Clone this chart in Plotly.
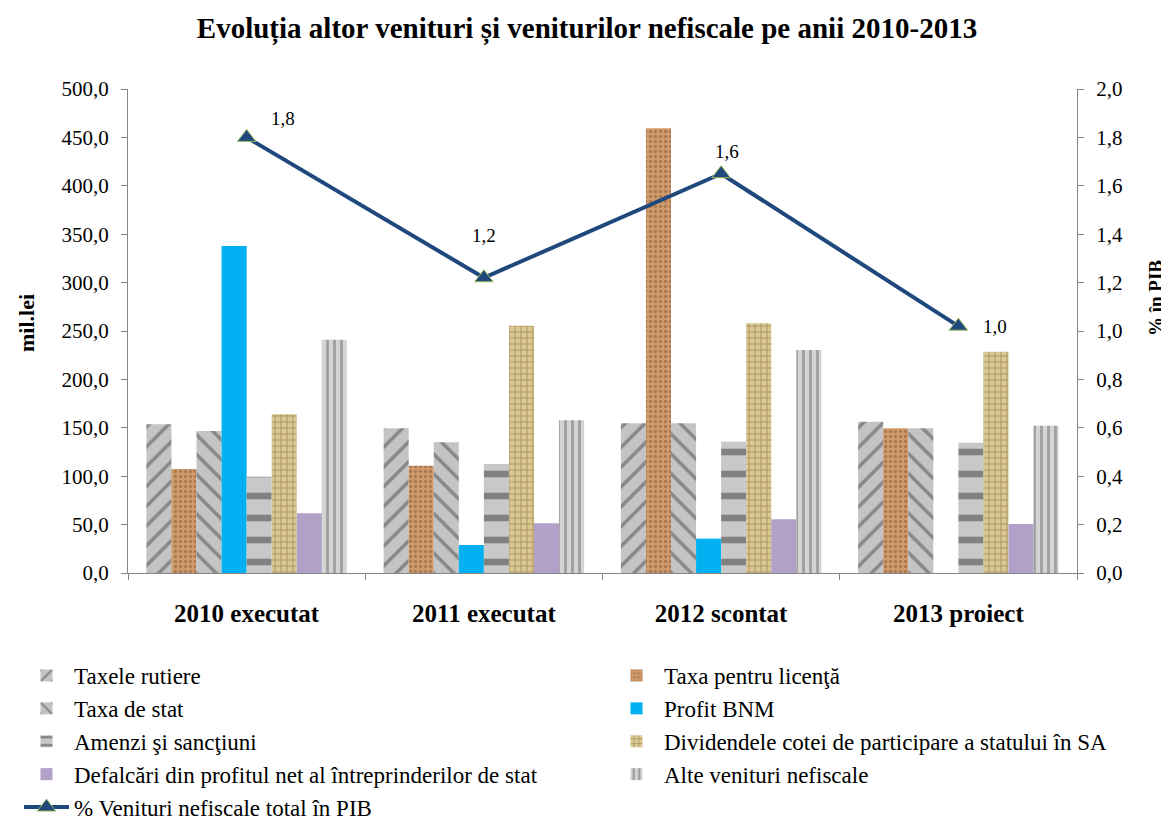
import plotly.graph_objects as go

categories = ["2010 executat", "2011 executat", "2012 scontat", "2013 proiect"]

taxele_rutiere = [153.6, 149.5, 154.6, 156.3]
taxa_licenta = [107.4, 110.9, 459.4, 149.5]
taxa_de_stat = [146.7, 135.0, 154.6, 149.5]
profit_bnm = [337.8, 28.9, 35.5, None]
amenzi = [99.5, 112.6, 135.7, 134.6]
dividende = [163.9, 255.5, 258.0, 228.6]
defalcari = [61.7, 51.3, 55.5, 50.6]
alte_venituri = [241.0, 157.7, 230.4, 152.2]

pib_pct = [1.80, 1.22, 1.65, 1.02]
pib_labels = ["1,8", "1,2", "1,6", "1,0"]

series_names = [
    "Taxele rutiere",
    "Taxa pentru licenţă",
    "Taxa de stat",
    "Profit BNM",
    "Amenzi şi sancţiuni",
    "Dividendele cotei de participare a statului în SA",
    "Defalcări din profitul net al întreprinderilor de stat",
    "Alte venituri nefiscale",
]
line_name = "% Venituri nefiscale total în PIB"

series_values = [taxele_rutiere, taxa_licenta, taxa_de_stat, profit_bnm,
                 amenzi, dividende, defalcari, alte_venituri]

# left legend column gets series 0,2,4,6 (+ line); right column gets 1,3,5,7
legend_of = ["legend", "legend2", "legend", "legend2", "legend", "legend2", "legend", "legend2"]

styles = [
    dict(color="#bdbdbd", pattern=dict(shape="/", fgcolor="#4a4a4a", bgcolor="#c4c4c4", size=14, solidity=0.25)),
    dict(color="#c98f5f", pattern=dict(shape=".", fgcolor="#8a5530", bgcolor="#cf9a6c", size=5, solidity=0.35)),
    dict(color="#bdbdbd", pattern=dict(shape="\\", fgcolor="#4a4a4a", bgcolor="#c4c4c4", size=14, solidity=0.25)),
    dict(color="#00b0f0"),
    dict(color="#c8c8c8", pattern=dict(shape="-", fgcolor="#3a3a3a", bgcolor="#c8c8c8", size=22, solidity=0.3)),
    dict(color="#d9c48e", pattern=dict(shape="+", fgcolor="#7a6535", bgcolor="#dcc892", size=6, solidity=0.3)),
    dict(color="#b1a0c7"),
    dict(color="#d0d0d0", pattern=dict(shape="|", fgcolor="#6a6a6a", bgcolor="#d4d4d4", size=7, solidity=0.4)),
]

# pixel offsets of the point labels from their markers (style, not data)
label_shift = [(36, 19), (0, 42), (6, 22), (37, 0)]

FONT = "Liberation Serif"

# the page body adds an 8 px offset; layout pixel targets are given in screenshot pixels
OFF = 8
W, H = 1169, 819
L, R, T, B = 128 - OFF, 92 + OFF, 89 - OFF, 246 + OFF
PW = W - L - R
PH = H - T - B


def px_x(sx):
    return (sx - OFF - L) / PW


def px_y(sy):
    return (H - B - (sy - OFF)) / PH


fig = go.Figure()
for i, (name, vals, st) in enumerate(zip(series_names, series_values, styles)):
    marker = dict(color=st["color"], line=dict(width=0))
    if "pattern" in st:
        marker["pattern"] = st["pattern"]
    fig.add_trace(go.Bar(x=categories, y=vals, name=name, marker=marker, yaxis="y",
                         legend=legend_of[i], legendgroup="g%d" % i))

fig.add_trace(go.Scatter(
    x=categories, y=pib_pct, name=line_name, yaxis="y2",
    mode="lines+markers",
    line=dict(color="#1f497d", width=4),
    marker=dict(symbol="triangle-up", size=16, color="#1f497d", line=dict(color="#9bbb59", width=1)),
    legend="legend", legendgroup="gline",
))

annotations = [
    dict(text="<b>mil.lei</b>", xref="paper", yref="paper",
         x=px_x(26), y=px_y(323), xanchor="center", yanchor="middle",
         textangle=-90, showarrow=False,
         font=dict(family=FONT, size=22, color="black")),
    dict(text="<b>% în PIB</b>", xref="paper", yref="paper",
         x=px_x(1155), y=px_y(298), xanchor="center", yanchor="middle",
         textangle=-90, showarrow=False,
         font=dict(family=FONT, size=19, color="black")),
]
for cat, val, lab, (dx, dy) in zip(categories, pib_pct, pib_labels, label_shift):
    annotations.append(dict(text=lab, x=cat, y=val, xref="x", yref="y2",
                            xanchor="center", yanchor="middle", xshift=dx, yshift=dy,
                            showarrow=False, font=dict(family=FONT, size=19, color="black")))

legend_common = dict(orientation="v", xanchor="left", yanchor="top",
                     font=dict(family=FONT, size=23, color="black"),
                     traceorder="grouped", tracegroupgap=0, bgcolor="rgba(0,0,0,0)",
                     itemwidth=45)

fig.update_layout(
    width=W, height=H,
    paper_bgcolor="white", plot_bgcolor="white",
    margin=dict(l=L, r=R, t=T, b=B, autoexpand=False),
    barmode="group", bargap=0.155, bargroupgap=0,
    separators=", ",
    font=dict(family=FONT, size=18, color="black"),
    title=dict(text="<b>Evoluția altor venituri și veniturilor nefiscale pe anii 2010-2013</b>",
               x=(587 - OFF) / W, xanchor="center",
               y=1 - (28 - OFF) / H, yanchor="middle", yref="container", xref="container",
               font=dict(family=FONT, size=29, color="black")),
    xaxis=dict(showline=True, linecolor="#868686", linewidth=1,
               ticks="outside", tickson="boundaries", ticklen=6, tickcolor="#868686",
               tickfont=dict(family=FONT, size=25, color="black", weight="bold"),
               ticklabelstandoff=18,
               showgrid=False, zeroline=False, automargin=False),
    yaxis=dict(range=[0, 500], dtick=50, tickformat=".1f",
               showline=True, linecolor="#868686", linewidth=1,
               ticks="outside", ticklen=6, tickcolor="#868686",
               tickfont=dict(family=FONT, size=21, color="black"),
               ticklabelstandoff=8,
               showgrid=False, zeroline=False, automargin=False),
    yaxis2=dict(range=[0, 2.0], dtick=0.2, tickformat=".1f", overlaying="y", side="right",
                showline=True, linecolor="#868686", linewidth=1,
                ticks="outside", ticklen=6, tickcolor="#868686",
                tickfont=dict(family=FONT, size=21, color="black"),
                ticklabelstandoff=8,
                showgrid=False, zeroline=False, automargin=False),
    annotations=annotations,
    legend=dict(x=px_x(19), y=px_y(654), **legend_common),
    legend2=dict(x=px_x(609), y=px_y(654), **legend_common),
    showlegend=True,
)

fig.write_html("out.html")
